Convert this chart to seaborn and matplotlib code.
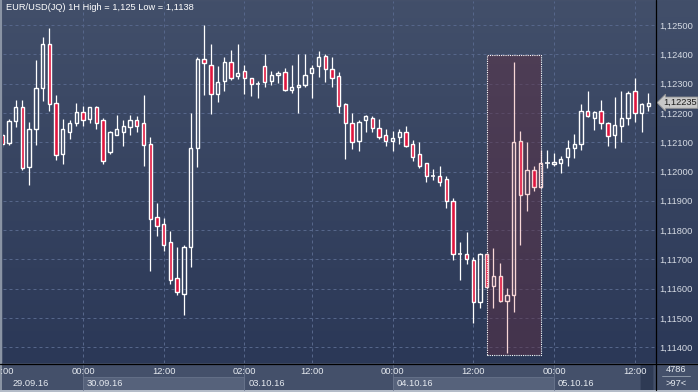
import numpy as np
import pandas as pd
import matplotlib
matplotlib.use("Agg")
import matplotlib.pyplot as plt
import seaborn as sns
from matplotlib.patches import Rectangle
from matplotlib.lines import Line2D
from matplotlib.colors import LinearSegmentedColormap
from matplotlib.ticker import FuncFormatter, FixedLocator
import matplotlib.transforms as mtransforms

# ---------------- data (EUR/USD 1H candles) ----------------
opens = [1.12125, 1.12098, 1.12174, 1.12219, 1.12017, 1.12146, 1.12286, 1.12434, 1.12233, 1.12061,
         1.12136, 1.12167, 1.12202, 1.12180, 1.12219, 1.12175, 1.12068, 1.12126, 1.12136, 1.12153,
         1.12175, 1.12164, 1.12093, 1.11844, 1.11822, 1.11758, 1.11635, 1.11581, 1.11741, 1.12079,
         1.12383, 1.12362, 1.12263, 1.12308, 1.12373, 1.12325, 1.12342, 1.12318, 1.12298, 1.12359,
         1.12308, 1.12328, 1.12339, 1.12277, 1.12287, 1.12294, 1.12335, 1.12359, 1.12393, 1.12351,
         1.12325, 1.12229, 1.12164, 1.12103, 1.12175, 1.12182, 1.12147, 1.12123, 1.12103, 1.12117,
         1.12134, 1.12093, 1.12059, 1.12028, 1.11986, 1.11986, 1.11973, 1.11898, 1.11717, 1.11717,
         1.11697, 1.11556, 1.11717, 1.11610, 1.11642, 1.11557, 1.11577, 1.12103, 1.11922, 1.12004,
         1.11946, 1.12028, 1.12026, 1.12030, 1.12048, 1.12079, 1.12093, 1.12208, 1.12182, 1.12208,
         1.12164, 1.12126, 1.12154, 1.12182, 1.12274, 1.12199, 1.12222]
highs = [1.12130, 1.12178, 1.12244, 1.12244, 1.12169, 1.12381, 1.12458, 1.12491, 1.12261, 1.12179,
         1.12176, 1.12233, 1.12224, 1.12221, 1.12224, 1.12182, 1.12138, 1.12193, 1.12176, 1.12193,
         1.12189, 1.12261, 1.12117, 1.11891, 1.11840, 1.11797, 1.11742, 1.11749, 1.12199, 1.12390,
         1.12500, 1.12435, 1.12360, 1.12390, 1.12415, 1.12435, 1.12364, 1.12320, 1.12309, 1.12401,
         1.12342, 1.12343, 1.12353, 1.12364, 1.12401, 1.12401, 1.12364, 1.12411, 1.12400, 1.12390,
         1.12339, 1.12233, 1.12199, 1.12176, 1.12193, 1.12189, 1.12178, 1.12144, 1.12138, 1.12144,
         1.12155, 1.12108, 1.12100, 1.12030, 1.12009, 1.12019, 1.11985, 1.11910, 1.11759, 1.11794,
         1.11709, 1.11722, 1.11722, 1.11738, 1.11688, 1.11601, 1.12373, 1.12138, 1.12100, 1.12018,
         1.12073, 1.12072, 1.12063, 1.12052, 1.12108, 1.12127, 1.12229, 1.12275, 1.12208, 1.12243,
         1.12170, 1.12254, 1.12275, 1.12275, 1.12319, 1.12235, 1.12267]
lows = [1.12085, 1.12090, 1.12153, 1.12005, 1.11954, 1.12090, 1.12241, 1.12207, 1.12039, 1.12026,
        1.12111, 1.12155, 1.12155, 1.12164, 1.12145, 1.12026, 1.12059, 1.12125, 1.12088, 1.12125,
        1.12136, 1.12020, 1.11660, 1.11781, 1.11729, 1.11617, 1.11579, 1.11510, 1.11675, 1.12016,
        1.12261, 1.12196, 1.12238, 1.12276, 1.12312, 1.12316, 1.12265, 1.12259, 1.12252, 1.12287,
        1.12295, 1.12302, 1.12275, 1.12267, 1.12201, 1.12287, 1.12252, 1.12324, 1.12304, 1.12287,
        1.12201, 1.12042, 1.12077, 1.12071, 1.12136, 1.12136, 1.12111, 1.12088, 1.12071, 1.12093,
        1.12083, 1.12037, 1.12013, 1.11965, 1.11971, 1.11952, 1.11877, 1.11698, 1.11631, 1.11684,
        1.11483, 1.11535, 1.11604, 1.11533, 1.11555, 1.11380, 1.11522, 1.11750, 1.11866, 1.11935,
        1.11944, 1.12013, 1.12020, 1.11996, 1.12019, 1.12047, 1.12072, 1.12186, 1.12143, 1.12146,
        1.12088, 1.12081, 1.12102, 1.12158, 1.12168, 1.12136, 1.12208]
closes = [1.12093, 1.12174, 1.12219, 1.12013, 1.12144, 1.12284, 1.12434, 1.12229, 1.12058, 1.12144,
          1.12164, 1.12202, 1.12177, 1.12219, 1.12167, 1.12037, 1.12134, 1.12144, 1.12154, 1.12175,
          1.12156, 1.12089, 1.11837, 1.11815, 1.11750, 1.11631, 1.11588, 1.11741, 1.12079, 1.12383,
          1.12369, 1.12263, 1.12304, 1.12373, 1.12318, 1.12335, 1.12318, 1.12298, 1.12298, 1.12304,
          1.12328, 1.12335, 1.12277, 1.12287, 1.12294, 1.12328, 1.12352, 1.12390, 1.12349, 1.12318,
          1.12222, 1.12164, 1.12100, 1.12168, 1.12188, 1.12147, 1.12117, 1.12103, 1.12113, 1.12134,
          1.12088, 1.12051, 1.12020, 1.11986, 1.11986, 1.11965, 1.11898, 1.11717, 1.11717, 1.11700,
          1.11556, 1.11717, 1.11607, 1.11642, 1.11557, 1.11577, 1.12100, 1.11919, 1.12004, 1.11946,
          1.12028, 1.12028, 1.12031, 1.12042, 1.12079, 1.12093, 1.12208, 1.12188, 1.12202, 1.12164,
          1.12122, 1.12158, 1.12182, 1.12267, 1.12199, 1.12229, 1.12235]

time_tick_pos = [0, 12, 24, 36, 46, 58, 70, 82, 94]
time_tick_labels = ["12:00", "00:00", "12:00", "02:00", "12:00", "00:00", "12:00", "00:00", "12:00"]
date_pos = [12, 36, 58, 82]
date_labels = ["30.09.16", "03.10.16", "04.10.16", "05.10.16"]
first_date_label = "29.09.16"
price_ticks = [1.114, 1.115, 1.116, 1.117, 1.118, 1.119, 1.120, 1.121, 1.122, 1.123, 1.124, 1.125]
last_price = 1.12235
title = "EUR/USD(JQ) 1H High = 1,125 Low = 1,1138"
bar_count_label = "4786"
visible_label = ">97<"
highlight_start, highlight_end = 72, 80
highlight_top, highlight_bottom = 1.12397, 1.11374

df = pd.DataFrame({"open": opens, "high": highs, "low": lows, "close": closes})
df["idx"] = np.arange(len(df))

# ---------------- style ----------------
sns.set_theme(style="dark")
plt.rcParams["font.family"] = ["Liberation Sans", "DejaVu Sans"]
FS = 6.7
W, H = 698, 392
fig = plt.figure(figsize=(W / 100, H / 100), dpi=100)
fig.patch.set_facecolor("#44506a")

def fx(x):
    return x / W

def fy(y):
    return 1 - y / H

grad_cmap = LinearSegmentedColormap.from_list("bg", ["#2b3857", "#424f6a"])
grad = np.linspace(0, 1, 256).reshape(-1, 1)

# right price panel background
axr = fig.add_axes([fx(655), fy(363), fx(698 - 655), (363 - 0) / H])
axr.imshow(grad, extent=[0, 1, 0, 1], origin="lower", aspect="auto", cmap=grad_cmap, zorder=0)
axr.set_xlim(0, 1); axr.set_ylim(0, 1); axr.axis("off")

# main axes
ax = fig.add_axes([fx(2.5), fy(363), fx(655 - 2.5), (363 - 1) / H])
ax.imshow(grad, extent=[0, 1, 0, 1], origin="lower", aspect="auto", cmap=grad_cmap,
          transform=ax.transAxes, zorder=0)
ymin = 1.125 - (363 - 25) / 29300
ymax = 1.125 + (25 - 1) / 29300
ax.set_ylim(ymin, ymax)
ax.set_xlim((2.5 - 2.2) / 6.73, (655 - 2.2) / 6.73)
for s in ax.spines.values():
    s.set_visible(False)

# grid
grid_kw = dict(color="#56668a", lw=0.72, ls=(0, (3, 3)), zorder=1)
for p in price_ticks:
    ax.axhline(p, **grid_kw)
for t in time_tick_pos:
    ax.axvline(t, **grid_kw)

# y tick labels on the right
ax.yaxis.set_major_locator(FixedLocator(price_ticks))
ax.yaxis.set_major_formatter(FuncFormatter(lambda v, _: f"{v:.5f}".replace(".", ",")))
ax.yaxis.tick_right()
ax.tick_params(axis="y", length=0, pad=3, labelsize=FS, labelcolor="#d6dbe4")
ax.set_xticks([])

# highlight region fill
ax.add_patch(Rectangle((highlight_start, highlight_bottom), highlight_end - highlight_start,
                       highlight_top - highlight_bottom, facecolor="#5c3044", alpha=0.5,
                       edgecolor="none", zorder=1.5))

# candles
RED = "#e0153e"
bw = 0.5
for r in df.itertuples():
    inside = highlight_start <= r.idx <= highlight_end
    ec = "#f7d6d6" if inside else "white"
    top, bot = max(r.open, r.close), min(r.open, r.close)
    ax.vlines(r.idx, top, r.high, color=ec, lw=0.9, zorder=3)
    ax.vlines(r.idx, r.low, bot, color=ec, lw=0.9, zorder=3)
    if top - bot < 0.000015:
        ax.hlines(r.close, r.idx - bw / 2 - 0.08, r.idx + bw / 2 + 0.08, color=ec, lw=1.1, zorder=3)
    else:
        fc = RED if r.close < r.open else "none"
        ax.add_patch(Rectangle((r.idx - bw / 2, bot), bw, top - bot, facecolor=fc,
                               edgecolor=ec, lw=1.0, zorder=3))

# highlight border
ax.add_patch(Rectangle((highlight_start, highlight_bottom), highlight_end - highlight_start,
                       highlight_top - highlight_bottom, facecolor="none", edgecolor="white",
                       lw=0.8, ls=(0, (1, 1)), zorder=4))

# title
ax.text(3 / (655 - 2.5), 1 - 7 / 362, title, transform=ax.transAxes, fontsize=FS,
        color="white", ha="left", va="center", zorder=5)

# last price marker
trans = mtransforms.blended_transform_factory(ax.transAxes, ax.transData)
ax.text(1 + 8 / 652.5, last_price, f"{last_price:.5f}".replace(".", ","), transform=trans,
        fontsize=FS, color="#1c1c1c", ha="left", va="center", zorder=6, clip_on=False,
        bbox=dict(boxstyle="larrow,pad=0.12", fc="#c8c8c8", ec="#9a9a9a", lw=0.6))

# bottom time axis panel drawings (figure coordinates)
xscale = lambda i: 2.2 + i * 6.73
for d0, d1 in [(12, 36), (58, 82)]:
    fig.add_artist(Rectangle((fx(xscale(d0)), fy(390)), fx(xscale(d1) - xscale(d0)), (390 - 377) / H,
                             facecolor="#56627b", edgecolor="#67738b", lw=0.6,
                             transform=fig.transFigure))
for d in date_pos:
    fig.add_artist(Line2D([fx(xscale(d)), fx(xscale(d))], [fy(364), fy(390)], color="#67738b",
                          lw=0.6, transform=fig.transFigure))
for t, lab in zip(time_tick_pos, time_tick_labels):
    fig.text(fx(xscale(t)), fy(372), lab, fontsize=FS, color="#e6eaf0", ha="center", va="center")
fig.text(fx(13), fy(383), first_date_label, fontsize=FS, color="#e6eaf0", ha="left", va="center")
for d, lab in zip(date_pos, date_labels):
    fig.text(fx(xscale(d) + 4), fy(383), lab, fontsize=FS, color="#e6eaf0", ha="left", va="center")

# scroll indicator block
fig.add_artist(Rectangle((fx(640), fy(390)), fx(13), (390 - 364) / H, facecolor="#2e3a54",
                         edgecolor="#3c4862", lw=0.6, transform=fig.transFigure))
# bottom-right counters
fig.text(fx(676), fy(369), bar_count_label, fontsize=FS, color="#e6eaf0", ha="center", va="center")
fig.text(fx(676), fy(383), visible_label, fontsize=FS, color="#e6eaf0", ha="center", va="center")
fig.add_artist(Line2D([fx(662), fx(690)], [fy(376), fy(376)], color="#9aa4b4", lw=0.6,
                      transform=fig.transFigure))

# black separators
fig.add_artist(Line2D([0, 1], [fy(363.5), fy(363.5)], color="black", lw=0.9, transform=fig.transFigure))
fig.add_artist(Line2D([fx(655.5), fx(655.5)], [fy(0), fy(390)], color="black", lw=0.9,
                      transform=fig.transFigure))
# outer frame
fig.add_artist(Rectangle((0, 0), fx(2), 1, facecolor="#8a94a4", edgecolor="none", transform=fig.transFigure))
fig.add_artist(Rectangle((0, 0), 1, 2 / H, facecolor="#b4bcc8", edgecolor="none", transform=fig.transFigure))

fig.savefig("out.png", dpi=100, facecolor=fig.get_facecolor())
